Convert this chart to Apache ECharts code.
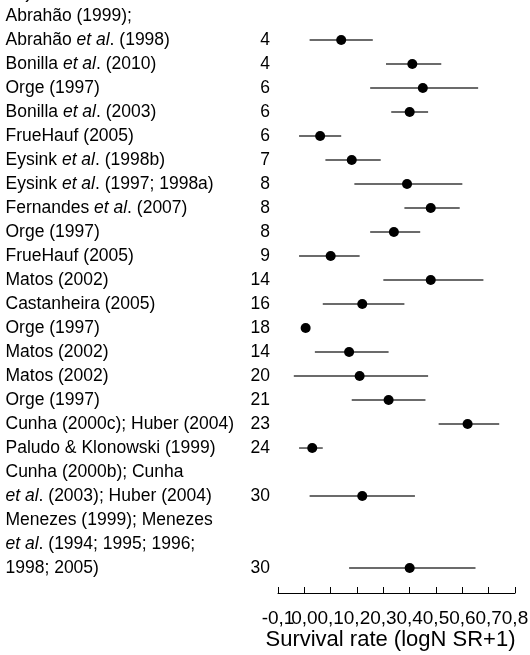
<!DOCTYPE html>
<html>
<head>
<meta charset="utf-8">
<style>
  html, body { margin: 0; padding: 0; background: #fff; }
  #chart { width: 530px; height: 655px; }
</style>
<script src="https://cdn.jsdelivr.net/npm/echarts@6/dist/echarts.min.js"></script>
</head>
<body>
<div id="chart"></div>
<script>
// Text lines of the study column (one entry per printed line)
const labelLines = [
  'Abrahão (1999);',
  'Abrahão et al. (1998)',
  'Bonilla et al. (2010)',
  'Orge (1997)',
  'Bonilla et al. (2003)',
  'FrueHauf (2005)',
  'Eysink et al. (1998b)',
  'Eysink et al. (1997; 1998a)',
  'Fernandes et al. (2007)',
  'Orge (1997)',
  'FrueHauf (2005)',
  'Matos (2002)',
  'Castanheira (2005)',
  'Orge (1997)',
  'Matos (2002)',
  'Matos (2002)',
  'Orge (1997)',
  'Cunha (2000c); Huber (2004)',
  'Paludo & Klonowski (1999)',
  'Cunha (2000b); Cunha',
  'et al. (2003); Huber (2004)',
  'Menezes (1999); Menezes',
  'et al. (1994; 1995; 1996;',
  '1998; 2005)'
];

// Line on which each study's estimate is printed
const rowLine = [1, 2, 3, 4, 5, 6, 7, 8, 9, 10, 11, 12, 13, 14, 15, 16, 17, 18, 20, 23];

// Number of sites per study
const sampleSize = [4, 4, 6, 6, 6, 7, 8, 8, 8, 9, 14, 16, 18, 14, 20, 21, 23, 24, 30, 30];

// Survival rate (logN SR+1): estimate and interval bounds
const survivalMean = [0.14, 0.41, 0.45, 0.40, 0.06, 0.18, 0.39, 0.48, 0.34, 0.10,
                      0.48, 0.22, 0.005, 0.17, 0.21, 0.32, 0.62, 0.03, 0.22, 0.40];
const ciLower = [0.02, 0.31, 0.25, 0.33, -0.02, 0.08, 0.19, 0.38, 0.25, -0.02,
                 0.30, 0.07, 0.005, 0.04, -0.04, 0.18, 0.51, -0.02, 0.02, 0.17];
const ciUpper = [0.26, 0.52, 0.66, 0.47, 0.14, 0.29, 0.60, 0.59, 0.44, 0.21,
                 0.68, 0.38, 0.005, 0.32, 0.47, 0.46, 0.74, 0.07, 0.42, 0.65];

// X axis ticks
const xMin = -0.1, xMax = 0.8, xStep = 0.1;
const xTitle = 'Survival rate (logN SR+1)';

const FONT = '"Liberation Sans", Arial, Helvetica, sans-serif';
const lineCount = labelLines.length;

// map line index -> sample size text
const sizeByLine = {};
rowLine.forEach((ln, k) => { sizeByLine[ln] = String(sampleSize[k]); });

function lineIndex(v) {
  const r = Math.round(v);
  return Math.abs(v - r) < 1e-6 ? r : -1;
}

const ciData = rowLine.map((ln, k) => [ciLower[k], ciUpper[k], ln]);
const pointData = rowLine.map((ln, k) => [survivalMean[k], ln]);

const yBase = {
  type: 'value',
  inverse: true,
  min: 0,
  max: 24.04,
  interval: 1,
  position: 'left',
  axisLine: { show: false, onZero: false },
  axisTick: { show: false },
  splitLine: { show: false }
};

// tick label text; the tick labels are split over two axes (even / odd ticks)
// so neighbouring labels, which sit edge to edge, are all kept
function tickText(v) {
  return (Math.abs(v) < 1e-9 ? 0 : v).toFixed(1).replace('.', ',');
}
function tickSlot(v) {
  return Math.round((v - xMin) / xStep);
}
const xBase = {
  type: 'value',
  position: 'bottom',
  min: xMin,
  max: xMax,
  interval: xStep,
  splitLine: { show: false }
};
const xLabelStyle = {
  fontFamily: FONT,
  fontSize: 19,
  color: '#000',
  margin: 16,
  showMinLabel: true,
  showMaxLabel: true,
  hideOverlap: false
};

const chart = echarts.init(document.getElementById('chart'), null, { renderer: 'canvas' });

chart.setOption({
  backgroundColor: '#ffffff',
  animation: false,
  textStyle: { fontFamily: FONT },
  grid: {
    left: 278, right: 15, top: 16, bottom: 62,
    containLabel: false,
    outerBoundsMode: 'none'
  },
  xAxis: [
    Object.assign({}, xBase, {
      name: xTitle,
      nameLocation: 'middle',
      nameGap: 36,
      nameMoveOverlap: false,
      nameTextStyle: { fontFamily: FONT, fontSize: 22, color: '#000', padding: [0, 12, 0, 0] },
      axisLine: { show: true, onZero: false, lineStyle: { color: '#000', width: 1 } },
      axisTick: { show: true, inside: true, length: 6, lineStyle: { color: '#000', width: 1 } },
      axisLabel: Object.assign({}, xLabelStyle, {
        formatter: v => (tickSlot(v) % 2 === 0 ? tickText(v) : '')
      })
    }),
    Object.assign({}, xBase, {
      axisLine: { show: false, onZero: false },
      axisTick: { show: false },
      axisLabel: Object.assign({}, xLabelStyle, {
        formatter: v => (tickSlot(v) % 2 === 1 ? tickText(v) : '')
      })
    })
  ],
  yAxis: [
    Object.assign({}, yBase, {
      axisLabel: {
        fontFamily: FONT,
        fontSize: 17.5,
        color: '#000',
        align: 'left',
        margin: 272.5,
        formatter: v => {
          const i = lineIndex(v);
          if (i < 0 || i >= lineCount) return '';
          return labelLines[i].replace('et al.', '{i|et al}.');
        },
        rich: {
          i: { fontFamily: FONT, fontSize: 17.5, fontStyle: 'italic', color: '#000' }
        }
      }
    }),
    Object.assign({}, yBase, {
      axisLabel: {
        fontFamily: FONT,
        fontSize: 17.5,
        color: '#000',
        align: 'right',
        margin: 8,
        formatter: v => {
          const i = lineIndex(v);
          return sizeByLine[i] || '';
        }
      }
    })
  ],
  graphic: [
    {
      type: 'text',
      left: 13,
      top: -20,
      style: { text: 'b)', font: '22px ' + FONT, fill: '#000' }
    }
  ],
  series: [
    {
      type: 'custom',
      xAxisIndex: 0,
      yAxisIndex: 0,
      data: ciData,
      encode: { x: [0, 1], y: 2 },
      renderItem: (params, api) => {
        const a = api.coord([api.value(0), api.value(2)]);
        const b = api.coord([api.value(1), api.value(2)]);
        return {
          type: 'line',
          shape: { x1: a[0], y1: a[1], x2: b[0], y2: b[1] },
          style: { stroke: '#3a3a3a', lineWidth: 1.4 }
        };
      },
      z: 2
    },
    {
      type: 'scatter',
      xAxisIndex: 0,
      yAxisIndex: 0,
      data: pointData,
      symbol: 'circle',
      symbolSize: 10,
      itemStyle: { color: '#000', opacity: 1 },
      emphasis: { disabled: true },
      z: 3
    }
  ]
});
</script>
</body>
</html>
